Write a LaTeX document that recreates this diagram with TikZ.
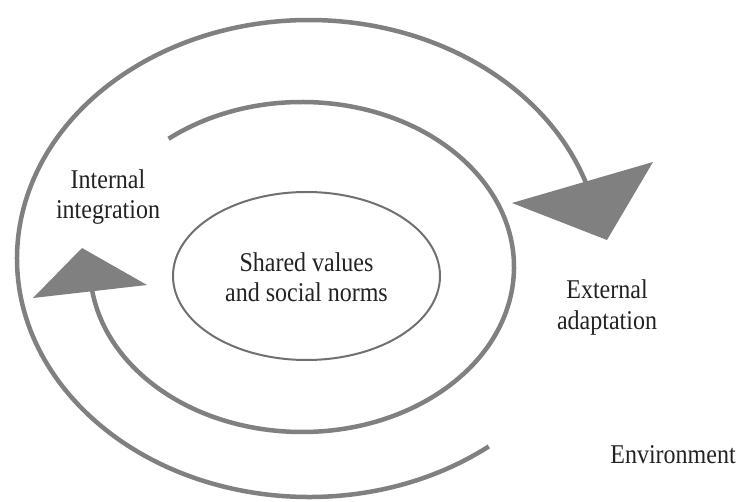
\documentclass[tikz,border=0pt]{standalone}
\usepackage{fontspec}
\setmainfont{Liberation Serif}
\usetikzlibrary{shapes.geometric}
\definecolor{arcgray}{HTML}{808080}
\definecolor{ringgray}{HTML}{707070}
\definecolor{txt}{HTML}{222222}
\begin{document}
\begin{tikzpicture}[x=1pt,y=1pt,
  loop/.style={draw=arcgray, line width=4.5pt},
  head/.style={fill=arcgray, draw=none},
  lbl/.style={font=\fontsize{24}{27}\selectfont, text=txt, align=center, yscale=1.13, transform shape, inner sep=0pt}]
\useasboundingbox (0,0) rectangle (739,501);
% outer loop (external adaptation)
\coordinate (oc) at (309,242.5);
\draw[loop] (oc) ++(308:292pt and 238.5pt) arc[start angle=308, end angle=18, x radius=292pt, y radius=238.5pt];
\coordinate (oa1) at (512,298);
\coordinate (oa2) at (653,339);
\coordinate (oa3) at (607,261);
\fill[head] (oa1) -- (oa2) -- (oa3) -- cycle;
% middle loop (internal integration)
\coordinate (mc) at (302,234);
\draw[loop] (mc) ++(129:212pt and 165pt) arc[start angle=129, end angle=-173, x radius=212pt, y radius=165pt];
\coordinate (ia1) at (33,203);
\coordinate (ia2) at (82,253);
\coordinate (ia3) at (147,216);
\fill[head] (ia1) -- (ia2) -- (ia3) -- cycle;
% core
\node[ellipse, draw=ringgray, line width=2pt, minimum width=267pt, minimum height=168pt, inner sep=0pt] (core) at (306.5,225) {};
\node[lbl] (shared) at (306.5,224) {Shared values\\and social norms};
\node[lbl] (internal) at (108,304) {Internal\\integration};
\node[lbl] (external) at (607,193.5) {External\\adaptation};
\node[lbl] (env) at (673,46) {Environment};
\end{tikzpicture}
\end{document}
